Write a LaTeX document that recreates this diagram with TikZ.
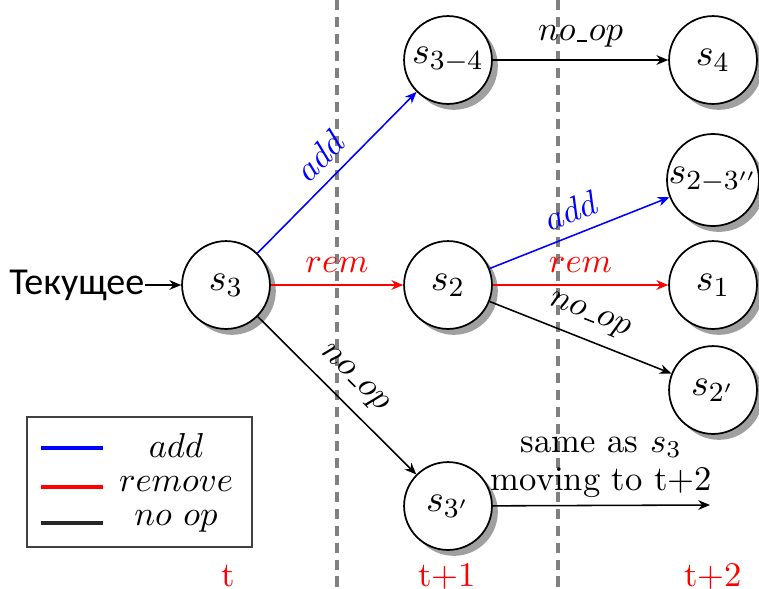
\documentclass[tikz,border=0pt]{standalone}
\usepackage{fontspec}
\newfontfamily\cyrfont{Carlito}
\usetikzlibrary{arrows.meta,shadows}
\newcommand{\nop}{\ensuremath{no\kern0.4pt\rule[-0.2pt]{3pt}{0.45pt}\kern0.4pt op}}
\begin{document}
\begin{tikzpicture}[x=0.289pt,y=-0.289pt,
  st/.style={circle,draw,line width=0.5pt,fill=white,minimum size=25.4pt,inner sep=0pt,
    font=\fontsize{11}{13}\selectfont,
    drop shadow={shadow xshift=1.7pt,shadow yshift=-1.7pt,opacity=0.75}},
  tr/.style={-{Stealth[length=3.4pt,width=2.8pt]},line width=0.45pt},
  lbl/.style={font=\fontsize{10}{12}\selectfont},
  sepline/.style={dash pattern=on 2.9pt off 2pt,line width=1.1pt,draw=black!50},
  legline/.style={line width=0.9pt},
  ticklbl/.style={text=red,anchor=base,inner sep=0pt,font=\fontsize{10}{12}\selectfont}]
\useasboundingbox (0,0) rectangle (759,588);
% separators
\draw[sepline] (337,0) -- (337,588);
\draw[sepline] (558,0) -- (558,588);
% states
\node[st] (s3)  at (226,285) {$s_3$};
\node[st] (s2)  at (448,285) {$s_2$};
\node[st] (s34) at (448,60)  {$s_{3-4}$};
\node[st] (s3p) at (448,506) {$s_{3'}$};
\node[st] (s4)  at (713,60)  {$s_4$};
\node[st] (s23) at (713,180) {$s_{2-3''}$};
\node[st] (s1)  at (713,285) {$s_1$};
\node[st] (s2p) at (713,390) {$s_{2'}$};
\coordinate (e) at (710,505);
% current
\node[anchor=east,inner sep=0pt,font=\cyrfont\fontsize{11}{13}\selectfont] (cur) at (145,285) {Текущее};
\draw[tr] (cur) -- (s3);
% transitions
\draw[tr,blue] (s3) -- node[above,sloped,lbl]{$add$} (s34);
\draw[tr,red]  (s3) -- node[above,lbl]{$rem$} (s2);
\draw[tr]      (s3) -- node[above,sloped,lbl]{\nop} (s3p);
\draw[tr]      (s34) -- node[above,lbl]{\nop} (s4);
\draw[tr,blue] (s2) -- node[above,sloped,lbl]{$add$} (s23);
\draw[tr,red]  (s2) -- node[above,lbl]{$rem$} (s1);
\draw[tr]      (s2) -- node[above,sloped,lbl]{\nop} (s2p);
\draw[tr]      (s3p) -- node[above,align=center,font=\fontsize{10}{11}\selectfont,inner sep=2pt]{same as $s_3$\\moving to t+2} (e);
% legend
\draw[line width=0.5pt,draw=black!75] (27,417) rectangle (252,547);
\draw[legline,blue]     (41,448) -- (103,448);
\draw[legline,red]      (41,487) -- (103,487);
\draw[legline,black!85] (41,523) -- (103,523);
\node[anchor=base,inner sep=0pt,lbl] (la) at (176,457) {$add$};
\node[anchor=base,inner sep=0pt,lbl] (lr) at (176,491) {$remove$};
\node[anchor=base,inner sep=0pt,lbl] (ln) at (176,525) {$no~op$};
% time labels
\node[ticklbl] (t0) at (228,586) {t};
\node[ticklbl] (t1) at (447,586) {t+1};
\node[ticklbl] (t2) at (713,586) {t+2};
\end{tikzpicture}
\end{document}
